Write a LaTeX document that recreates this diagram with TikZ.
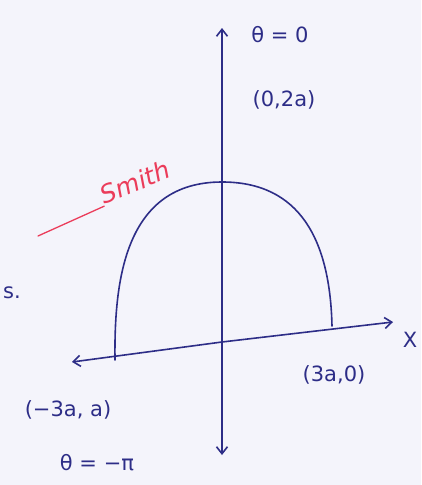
\documentclass[tikz,border=0pt]{standalone}
\usepackage{fontspec}
\setmainfont{DejaVu Sans}
\usetikzlibrary{arrows.meta}
\definecolor{inkblue}{RGB}{45,45,135}
\definecolor{paper}{RGB}{244,244,251}
\definecolor{inkred}{RGB}{235,60,90}
\begin{document}
\begin{tikzpicture}[x=1pt,y=-1pt,
  ink/.style={draw=inkblue,line width=1.6pt,line cap=round},
  lab/.style={text=inkblue,font=\fontsize{21}{24}\selectfont,inner sep=0pt},
  axarrow/.style={ink,-{Straight Barb[length=7pt,width=11pt]}}]
\fill[paper] (0,0) rectangle (421,485);
\useasboundingbox (0,0) rectangle (421,485);
% axes
\coordinate (O) at (222,342);
\coordinate (top) at (222,28);
\coordinate (bot) at (222,455);
\coordinate (L) at (72,362);
\coordinate (R) at (393,322);
\draw[axarrow] (O) -- (top);
\draw[axarrow] (O) -- (bot);
\draw[axarrow] (O) -- (L);
\draw[axarrow] (O) -- (R);
% curve
\coordinate (lf) at (115,360);
\coordinate (pk) at (222,182);
\coordinate (rf) at (332,326);
\draw[ink] (lf) .. controls (114,280) and (125,182) .. (pk)
           .. controls (300,182) and (330,240) .. (rf);
% labels
\node[lab] (t0) at (280,35) {θ = 0};
\node[lab] (p1) at (284,100) {(0,2a)};
\node[lab] (xl) at (410,340) {X};
\node[lab] (p2) at (334,375) {(3a,0)};
\node[lab] (p3) at (68,410) {(−3a, a)};
\node[lab] (t1) at (97,463) {θ = −π};
\node[lab] (s) at (12,293) {s.};
% red signature
\node[text=inkred,font=\fontsize{25}{28}\selectfont\itshape,rotate=22,inner sep=1pt] (sig) at (135,182) {Smith};
\coordinate (sigend) at (38,236);
\draw[draw=inkred,line width=1.3pt,line cap=round] (sig.south west) -- (sigend);
\end{tikzpicture}
\end{document}
